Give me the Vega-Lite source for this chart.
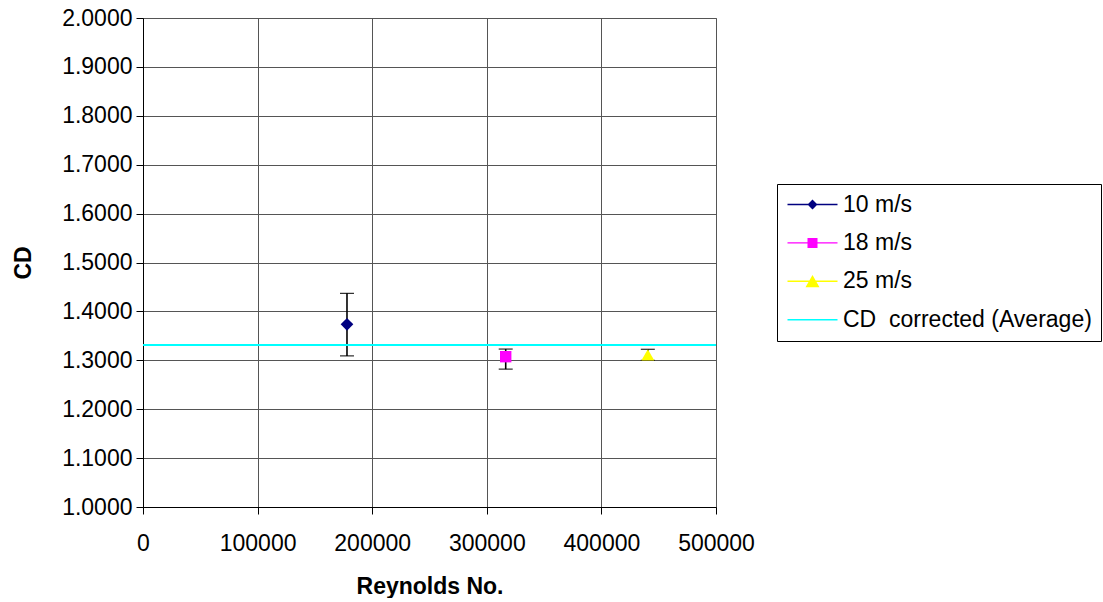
{
  "$schema": "https://vega.github.io/schema/vega-lite/v6.json",
  "width": 573,
  "height": 489,
  "padding": {"left": 12, "top": 7, "right": 0, "bottom": 0},
  "background": "white",
  "config": {
    "font": "Liberation Sans",
    "view": {"stroke": "#808080", "strokeWidth": 1},
    "axis": {
      "labelFont": "Liberation Sans",
      "labelFontSize": 23,
      "labelColor": "#000",
      "titleFont": "Liberation Sans",
      "titleFontSize": 23,
      "titleFontWeight": "bold",
      "titleColor": "#000",
      "domainColor": "#000",
      "tickColor": "#000",
      "gridColor": "#555",
      "gridOpacity": 1,
      "tickSize": 7
    }
  },
  "datasets": {
    "points": [
      {"series": "10 m/s", "reynolds": 178000, "cd": 1.3736, "low": 1.309, "high": 1.437},
      {"series": "18 m/s", "reynolds": 316500, "cd": 1.3074, "low": 1.282, "high": 1.323},
      {"series": "25 m/s", "reynolds": 440500, "cd": 1.311, "low": 1.3, "high": 1.3226}
    ],
    "average": [{"series": "CD\u00a0 corrected (Average)", "cd": 1.3313}]
  },
  "layer": [
    {
      "data": {"name": "points"},
      "mark": {
        "type": "errorbar",
        "color": "#000",
        "opacity": 1,
        "ticks": {"size": 14, "color": "#000", "strokeWidth": 1.6, "opacity": 1},
        "rule": {"color": "#000", "strokeWidth": 1.6, "opacity": 1}
      },
      "encoding": {
        "x": {
          "field": "reynolds",
          "type": "quantitative",
          "scale": {"domain": [0, 500000], "nice": false},
          "axis": {
            "title": "Reynolds No.",
            "values": [0, 100000, 200000, 300000, 400000, 500000],
            "format": "d",
            "grid": true,
            "labelFlush": false,
            "labelOverlap": false,
            "labelPadding": 18,
            "titlePadding": 20
          }
        },
        "y": {
          "field": "low",
          "type": "quantitative",
          "scale": {"domain": [1, 2], "nice": false, "zero": false},
          "axis": {
            "title": "CD",
            "values": [1, 1.1, 1.2, 1.3, 1.4, 1.5, 1.6, 1.7, 1.8, 1.9, 2],
            "format": ".4f",
            "grid": true,
            "labelPadding": 4,
            "titlePadding": 26
          }
        },
        "y2": {"field": "high"}
      }
    },
    {
      "data": {"name": "points"},
      "transform": [{"filter": "datum.series == '10 m/s'"}],
      "mark": {"type": "point", "shape": "diamond", "filled": true, "color": "#000080", "opacity": 1, "size": 161},
      "encoding": {
        "x": {"field": "reynolds", "type": "quantitative"},
        "y": {"field": "cd", "type": "quantitative"}
      }
    },
    {
      "data": {"name": "points"},
      "transform": [{"filter": "datum.series == '18 m/s'"}],
      "mark": {"type": "point", "shape": "square", "filled": true, "color": "#FF00FF", "opacity": 1, "size": 130},
      "encoding": {
        "x": {"field": "reynolds", "type": "quantitative"},
        "y": {"field": "cd", "type": "quantitative"}
      }
    },
    {
      "data": {"name": "points"},
      "transform": [{"filter": "datum.series == '25 m/s'"}],
      "mark": {"type": "point", "shape": "triangle-up", "filled": true, "color": "#FFFF00", "opacity": 1, "size": 169},
      "encoding": {
        "x": {"field": "reynolds", "type": "quantitative"},
        "y": {"field": "cd", "type": "quantitative"}
      }
    },
    {
      "data": {"name": "average"},
      "mark": {"type": "rule", "color": "#00FFFF", "strokeWidth": 2},
      "encoding": {
        "y": {"field": "cd", "type": "quantitative"}
      }
    },
    {
      "data": {"name": "points"},
      "mark": {"type": "point", "filled": true, "opacity": 0},
      "encoding": {
        "x": {"field": "reynolds", "type": "quantitative"},
        "y": {"field": "cd", "type": "quantitative"},
        "shape": {
          "field": "series",
          "type": "nominal",
          "scale": {
            "domain": ["10 m/s", "18 m/s", "25 m/s", "CD\u00a0 corrected (Average)"],
            "range": [
              "M-1,-0.07H4V0.07H-1Z M1.5,-0.5L2,0L1.5,0.5L1,0Z",
              "M-1,-0.07H4V0.07H-1Z M1,-0.5H2V0.5H1Z",
              "M-1,-0.07H4V0.07H-1Z M1.5,-0.62L2.2,0.6H0.8Z",
              "M-1,-0.07H4V0.07H-1Z"
            ]
          },
          "legend": {
            "title": null,
            "orient": "none",
            "legendX": 634,
            "legendY": 166,
            "strokeColor": "#000",
            "fillColor": "white",
            "padding": 9,
            "symbolSize": 400,
            "symbolStrokeWidth": 0,
            "symbolOpacity": 1,
            "labelFont": "Liberation Sans",
            "labelFontSize": 23,
            "labelColor": "#000",
            "labelOffset": 34,
            "labelLimit": 400,
            "rowPadding": 14.4,
            "encode": {"symbols": {"update": {"opacity": {"value": 1}}}}
          }
        },
        "fill": {
          "field": "series",
          "type": "nominal",
          "scale": {
            "domain": ["10 m/s", "18 m/s", "25 m/s", "CD\u00a0 corrected (Average)"],
            "range": ["#000080", "#FF00FF", "#FFFF00", "#00FFFF"]
          },
          "legend": {
            "title": null,
            "orient": "none",
            "legendX": 634,
            "legendY": 166,
            "strokeColor": "#000",
            "fillColor": "white",
            "padding": 9,
            "symbolSize": 400,
            "symbolStrokeWidth": 0,
            "symbolOpacity": 1,
            "labelFont": "Liberation Sans",
            "labelFontSize": 23,
            "labelColor": "#000",
            "labelOffset": 34,
            "labelLimit": 400,
            "rowPadding": 14.4,
            "encode": {"symbols": {"update": {"opacity": {"value": 1}}}}
          }
        }
      }
    }
  ]
}
